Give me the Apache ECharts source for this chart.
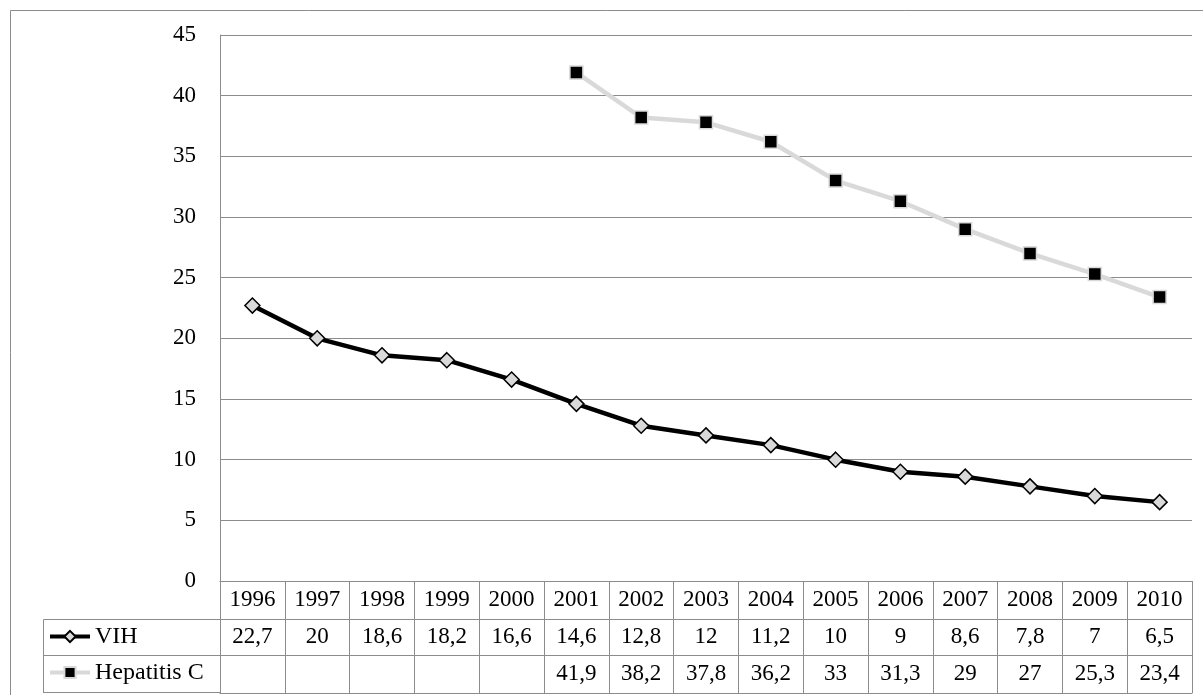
<!DOCTYPE html>
<html>
<head>
<meta charset="utf-8">
<script src="https://cdn.jsdelivr.net/npm/echarts@6/dist/echarts.min.js"></script>
<style>
html,body{margin:0;padding:0;background:#fff;}
#c{width:1203px;height:695px;}
</style>
</head>
<body>
<div id="c"></div>
<script>
var years = ['1996','1997','1998','1999','2000','2001','2002','2003','2004','2005','2006','2007','2008','2009','2010'];
var vih = [22.7, 20, 18.6, 18.2, 16.6, 14.6, 12.8, 12, 11.2, 10, 9, 8.6, 7.8, 7, 6.5];
var hepC = [null, null, null, null, null, 41.9, 38.2, 37.8, 36.2, 33, 31.3, 29, 27, 25.3, 23.4];
var yTicks = { min: 0, max: 45, interval: 5 };

var FONT = '"Liberation Serif", "DejaVu Serif", serif';
var GRAY = '#8c8c8c';
function fmt(v){ return (v === null || v === undefined) ? '' : String(v).replace('.', ','); }

var chart = echarts.init(document.getElementById('c'), null, {renderer:'canvas'});
var option = {
  animation: false,
  backgroundColor: '#fff',
  grid: { left: 220, right: 11, top: 35, bottom: 114, containLabel: false },
  legend: {
    left: 48, top: 623, orient: 'vertical', padding: 0,
    width: 170, height: 72,
    itemWidth: 40, itemHeight: 14, itemGap: 9,
    selectedMode: false,
    lineStyle: { width: 4 },
    textStyle: { fontFamily: FONT, fontSize: 24, color: '#000', lineHeight: 27 },
    data: ['VIH', 'Hepatitis C']
  },
  xAxis: [
    {
      type: 'category', data: years, position: 'bottom', boundaryGap: true,
      axisLine: { show: true, lineStyle: { color: GRAY, width: 1 } },
      axisTick: { show: true, interval: 0, length: 112, lineStyle: { color: GRAY, width: 1 } },
      axisLabel: { interval: 0, margin: 19, verticalAlign: 'middle', fontFamily: FONT, fontSize: 23, color: '#000' },
      splitLine: { show: false }
    },
    {
      type: 'category', data: years, position: 'bottom', offset: 38, boundaryGap: true,
      axisLine: { show: true, lineStyle: { color: GRAY, width: 1 } },
      axisTick: { show: false },
      axisLabel: { interval: 0, margin: 18, verticalAlign: 'middle', fontFamily: FONT, fontSize: 23, color: '#000',
        formatter: function(v, i){ return fmt(vih[i]); } },
      splitLine: { show: false }
    },
    {
      type: 'category', data: years, position: 'bottom', offset: 74, boundaryGap: true,
      axisLine: { show: true, lineStyle: { color: GRAY, width: 1 } },
      axisTick: { show: false },
      axisLabel: { interval: 0, margin: 19, verticalAlign: 'middle', fontFamily: FONT, fontSize: 23, color: '#000',
        formatter: function(v, i){ return fmt(hepC[i]); } },
      splitLine: { show: false }
    },
    {
      type: 'category', data: years, position: 'bottom', offset: 112, boundaryGap: true,
      axisLine: { show: true, lineStyle: { color: GRAY, width: 1 } },
      axisTick: { show: false },
      axisLabel: { show: false },
      splitLine: { show: false }
    }
  ],
  yAxis: {
    type: 'value', min: yTicks.min, max: yTicks.max, interval: yTicks.interval,
    axisLine: { show: true, lineStyle: { color: GRAY, width: 1 } },
    axisTick: { show: false },
    axisLabel: { margin: 24, fontFamily: FONT, fontSize: 23, color: '#000' },
    splitLine: { show: true, lineStyle: { color: GRAY, width: 1 } }
  },
  series: [
    {
      name: 'VIH', type: 'line', data: vih, xAxisIndex: 0,
      symbol: 'diamond', symbolSize: 15,
      lineStyle: { color: '#000', width: 4.5 },
      itemStyle: { color: '#d9d9d9', borderColor: '#000', borderWidth: 1.5 },
      z: 3
    },
    {
      name: 'Hepatitis C', type: 'line', data: hepC, xAxisIndex: 0,
      symbol: 'rect', symbolSize: 13,
      lineStyle: { color: '#d9d9d9', width: 4.5 },
      itemStyle: { color: '#000', borderColor: '#d9d9d9', borderWidth: 1.5 },
      z: 3
    }
  ],
  graphic: [
    { type: 'line', shape: { x1: 10.5, y1: 10.5, x2: 1203, y2: 10.5 }, style: { stroke: GRAY, lineWidth: 1 } },
    { type: 'line', shape: { x1: 10.5, y1: 10.5, x2: 10.5, y2: 695 }, style: { stroke: GRAY, lineWidth: 1 } },
    { type: 'line', shape: { x1: 43.5, y1: 619.5, x2: 220, y2: 619.5 }, style: { stroke: GRAY, lineWidth: 1 } },
    { type: 'line', shape: { x1: 43.5, y1: 655.5, x2: 220, y2: 655.5 }, style: { stroke: GRAY, lineWidth: 1 } },
    { type: 'line', shape: { x1: 43.5, y1: 692.5, x2: 220, y2: 692.5 }, style: { stroke: GRAY, lineWidth: 1 } },
    { type: 'line', shape: { x1: 43.5, y1: 619.5, x2: 43.5, y2: 693 }, style: { stroke: GRAY, lineWidth: 1 } }
  ]
};
chart.setOption(option);
</script>
</body>
</html>
